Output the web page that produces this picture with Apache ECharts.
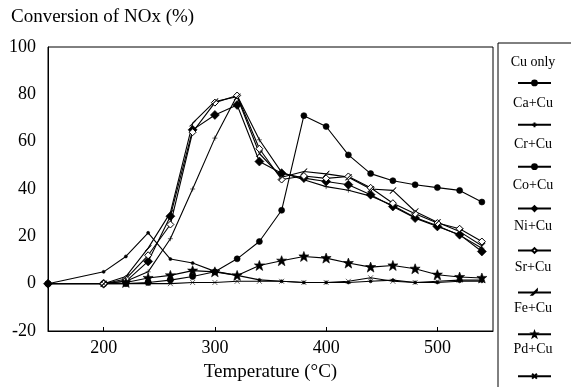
<!DOCTYPE html>
<html>
<head>
<meta charset="utf-8">
<script src="https://cdn.jsdelivr.net/npm/echarts@6/dist/echarts.min.js"></script>
<style>
html,body{margin:0;padding:0;background:#fff;}
#chart{width:571px;height:387px;}
</style>
</head>
<body>
<div id="chart"></div>
<script>
var temps = [150,200,220,240,260,280,300,320,340,360,380,400,420,440,460,480,500,520,540];
var xTicks = [200,300,400,500];
var seriesNames = ['Cu only','Ca+Cu','Cr+Cu','Co+Cu','Ni+Cu','Sr+Cu','Fe+Cu','Pd+Cu'];
var cuOnly = [0,0,0,0.5,1.5,3,5,10.5,17.8,31,71,66.4,54.4,46.5,43.5,41.8,40.6,39.4,34.5];
var caCu   = [null,0,1,5,19,40,61.5,79.5,60.8,47,43.9,41,39.5,37,33,28,24.5,20.5,15];
var crCu   = [0,5,11.5,21.5,10.4,8.7,5.2,3.5,1.6,1,0.5,0.5,0.5,1,1.5,0.5,0.5,1,1];
var coCu   = [0,0,1,9.4,28.5,65,71.3,75.5,51.6,46.7,44.6,43.2,41.8,37.6,32.6,27.7,24.2,20.7,13.6];
var niCu   = [null,0,2,12,25,64,76.5,79.5,57,44,45.5,44.5,45.3,40.5,34,29.5,25.6,23.2,17.8];
var srCu   = [null,0,3,15,30,67.8,77,79,55,45,47.4,46.4,45,40,39.4,30.5,26,22,16];
var feCu   = [null,null,0.5,2.4,3.5,5.5,5,3.5,7.7,9.7,11.5,10.8,8.7,7,7.7,6.3,3.8,2.8,2.4];
var pdCu   = [0,0,0,0,0,0.5,0.5,1,1,1,0.5,0.5,1,2.5,1,0.5,1,1.5,1.5];

var valuesList = [cuOnly, caCu, crCu, coCu, niCu, srCu, feCu, pdCu];

var STAR = 'path://M5,0 L6.3,3.2 L10,3.2 L7.1,5.5 L8.3,9.3 L5,7.1 L1.7,9.3 L2.9,5.5 L0,3.2 L3.7,3.2 Z';
var symbols = [
  {symbol:'circle', size:6, fill:'#000'},
  {symbol:'path://M0,5 L10,5 M5,0 L5,10', size:5, fill:'#000'},
  {symbol:'circle', size:3, fill:'#000'},
  {symbol:'diamond', size:9, fill:'#000'},
  {symbol:'diamond', size:7, fill:'#fff'},
  {symbol:'path://M0,10 L10,0 L10,1 L1,10 Z', size:6, fill:'#000'},
  {symbol:STAR, size:10, fill:'#000'},
  {symbol:'path://M0,0 L10,10 M10,0 L0,10', size:5, fill:'#000'}
];

function pairs(vals){
  var out = [];
  for (var i = 0; i < temps.length; i++) {
    if (vals[i] !== null) out.push([temps[i], vals[i]]);
  }
  return out;
}

var series = seriesNames.map(function(name, i){
  var s = symbols[i];
  return {
    name: name,
    type: 'line',
    data: pairs(valuesList[i]),
    symbol: s.symbol,
    symbolSize: s.size,
    showAllSymbol: true,
    connectNulls: true,
    lineStyle: {color:'#000', width:1.1},
    itemStyle: {color: s.fill, borderColor:'#000', borderWidth: (s.fill === '#fff' ? 1 : 0.6)},
    emphasis: {disabled:true},
    animation: false,
    z: 2
  };
});

var FONT = 'Liberation Serif';
var legendTop = 62, legendStep = 41.1;
var graphics = [
  {type:'rect', shape:{x:498, y:43, width:80, height:360}, style:{fill:'none', stroke:'#000', lineWidth:1}}
];
seriesNames.forEach(function(name, i){
  graphics.push({type:'text', x:533, y:legendTop + legendStep*i,
    style:{text:name, fontSize:14, fontFamily:FONT, fill:'#000', textAlign:'center', textVerticalAlign:'middle'}});
});

var chart = echarts.init(document.getElementById('chart'), null, {renderer:'canvas'});
chart.setOption({
  animation: false,
  backgroundColor: '#fff',
  title: {
    text: 'Conversion of NOx (%)', left: 6, top: 3,
    textStyle: {fontFamily: FONT, fontSize: 19, fontWeight: 'normal', color: '#000'}
  },
  grid: {left:48, right:78, top:47, bottom:56, show:true, borderColor:'#000', borderWidth:1, backgroundColor:'transparent'},
  legend: {
    orient: 'vertical', left: 517, top: legendTop + 20.5 - 3,
    padding: 0,
    itemWidth: 33, itemHeight: 6, itemGap: legendStep - 6,
    formatter: function(){ return ''; },
    selectedMode: false,
    textStyle: {fontSize: 1},
    data: seriesNames
  },
  xAxis: {
    type: 'value', min: 150, max: 550,
    name: 'Temperature (°C)', nameLocation: 'middle', nameGap: 32,
    nameTextStyle: {fontFamily: FONT, fontSize: 19, color: '#000'},
    axisLine: {show:true, onZero:false, lineStyle:{color:'#000', width:1}},
    axisTick: {show:true, inside:true, length:4, customValues: xTicks, lineStyle:{color:'#000'}},
    axisLabel: {customValues: xTicks, fontFamily: FONT, fontSize: 18, color:'#000', margin: 8},
    splitLine: {show:false}
  },
  yAxis: {
    type: 'value', min: -20, max: 100, interval: 20,
    axisLine: {show:true, onZero:false, lineStyle:{color:'#000', width:1}},
    axisTick: {show:false},
    axisLabel: {fontFamily: FONT, fontSize: 18, color:'#000', margin: 12},
    splitLine: {show:false}
  },
  graphic: graphics,
  series: series
});
</script>
</body>
</html>
